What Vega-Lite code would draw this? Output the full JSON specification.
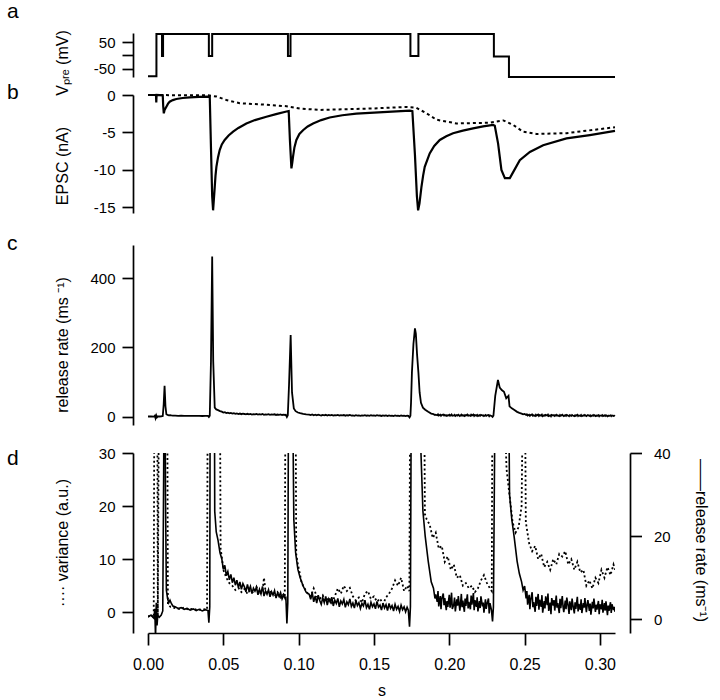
{
"$schema":"https://vega.github.io/schema/vega-lite/v6.json",
"padding":{"left":7,"top":0,"right":2,"bottom":0},
"background":"white",
"config":{
 "view":{"stroke":null},
 "font":"Liberation Sans",
 "axis":{"domainColor":"#000","domainWidth":1.7,"tickColor":"#000","tickWidth":1.7,"labelColor":"#000","titleColor":"#000","labelFont":"Liberation Sans","titleFont":"Liberation Sans","labelFontSize":15,"titleFontSize":16,"titleFontWeight":"normal","grid":false,"tickSize":11,"labelPadding":7,"labelFlush":false,"labelOverlap":false},
 "title":{"font":"Liberation Sans","fontSize":21,"fontWeight":"normal","color":"#000","anchor":"start","frame":"group","baseline":"alphabetic","offset":0},
 "line":{"color":"#000"}
},
"datasets":{
 "vpre":[{"t":0,"mv":-78},{"t":0.0056,"mv":81},{"t":0.0093,"mv":-2},{"t":0.0100,"mv":81},{"t":0.0404,"mv":-2},{"t":0.0426,"mv":81},{"t":0.0929,"mv":-2},{"t":0.0946,"mv":81},{"t":0.1742,"mv":-2},{"t":0.1795,"mv":81},{"t":0.2296,"mv":-4},{"t":0.2396,"mv":-81},{"t":0.31,"mv":-81}],
 "epsc":[{"t":0,"na":0},{"t":0.0053,"na":0},{"t":0.0055,"na":-1.0},{"t":0.0057,"na":0},{"t":0.0098,"na":-0.05},{"t":0.0101,"na":-1.5},{"t":0.0105,"na":-2.45},{"t":0.011,"na":-2.0},{"t":0.0122,"na":-1.56},{"t":0.0133,"na":-1.15},{"t":0.0144,"na":-0.89},{"t":0.0165,"na":-0.68},{"t":0.0188,"na":-0.53},{"t":0.023,"na":-0.4},{"t":0.0277,"na":-0.31},{"t":0.034,"na":-0.26},{"t":0.0398,"na":-0.22},{"t":0.041,"na":-0.25},{"t":0.0418,"na":-7},{"t":0.0426,"na":-13.5},{"t":0.0432,"na":-15.4},{"t":0.0437,"na":-14},{"t":0.0443,"na":-12.3},{"t":0.0448,"na":-10.8},{"t":0.0454,"na":-9.6},{"t":0.0465,"na":-8.3},{"t":0.0476,"na":-7.35},{"t":0.049,"na":-6.6},{"t":0.0509,"na":-6.0},{"t":0.0535,"na":-5.4},{"t":0.0565,"na":-4.9},{"t":0.06,"na":-4.4},{"t":0.0653,"na":-3.8},{"t":0.071,"na":-3.35},{"t":0.0786,"na":-2.9},{"t":0.085,"na":-2.55},{"t":0.0919,"na":-2.2},{"t":0.0934,"na":-2.15},{"t":0.0942,"na":-6},{"t":0.0952,"na":-9.8},{"t":0.0958,"na":-9},{"t":0.0963,"na":-8.2},{"t":0.0972,"na":-7},{"t":0.0985,"na":-6.0},{"t":0.1005,"na":-5.2},{"t":0.1029,"na":-4.7},{"t":0.106,"na":-4.2},{"t":0.1096,"na":-3.8},{"t":0.115,"na":-3.35},{"t":0.1206,"na":-3.0},{"t":0.129,"na":-2.7},{"t":0.1383,"na":-2.5},{"t":0.156,"na":-2.3},{"t":0.1738,"na":-2.1},{"t":0.1755,"na":-2.15},{"t":0.1772,"na":-8},{"t":0.1785,"na":-13.5},{"t":0.1793,"na":-15.4},{"t":0.1802,"na":-14.5},{"t":0.1815,"na":-12.3},{"t":0.1826,"na":-10.8},{"t":0.1837,"na":-9.6},{"t":0.187,"na":-7.8},{"t":0.19,"na":-6.8},{"t":0.1937,"na":-6.0},{"t":0.198,"na":-5.5},{"t":0.2025,"na":-5.1},{"t":0.209,"na":-4.75},{"t":0.2158,"na":-4.45},{"t":0.2225,"na":-4.2},{"t":0.2291,"na":-4.0},{"t":0.2302,"na":-4.1},{"t":0.2324,"na":-6.5},{"t":0.2346,"na":-10.0},{"t":0.2369,"na":-11.1},{"t":0.2402,"na":-11.1},{"t":0.2424,"na":-10.3},{"t":0.2468,"na":-8.7},{"t":0.2535,"na":-7.6},{"t":0.2623,"na":-6.7},{"t":0.2778,"na":-5.8},{"t":0.2933,"na":-5.35},{"t":0.31,"na":-4.8}],
 "epsc2":[{"t":0,"na":0},{"t":0.040,"na":-0.05},{"t":0.0454,"na":-0.2},{"t":0.052,"na":-0.67},{"t":0.0609,"na":-1.1},{"t":0.0786,"na":-1.3},{"t":0.0919,"na":-1.5},{"t":0.1007,"na":-1.8},{"t":0.114,"na":-2.0},{"t":0.149,"na":-1.8},{"t":0.1715,"na":-1.6},{"t":0.178,"na":-1.7},{"t":0.1849,"na":-2.45},{"t":0.1915,"na":-3.3},{"t":0.2048,"na":-3.8},{"t":0.227,"na":-3.7},{"t":0.2359,"na":-3.4},{"t":0.2424,"na":-4.0},{"t":0.249,"na":-4.9},{"t":0.2579,"na":-5.2},{"t":0.2778,"na":-5.1},{"t":0.31,"na":-4.3}],
 "rate":[{"t":0,"r":0.5},{"t":0.002,"r":1},{"t":0.004,"r":0.2},{"t":0.0045,"r":2.5},{"t":0.005,"r":-4.5},{"t":0.0055,"r":4},{"t":0.006,"r":-1.5},{"t":0.0065,"r":1},{"t":0.0075,"r":0.5},{"t":0.0088,"r":1},{"t":0.0098,"r":2},{"t":0.0104,"r":35},{"t":0.011,"r":89},{"t":0.0116,"r":30},{"t":0.0122,"r":7},{"t":0.013,"r":5},{"t":0.0138,"r":4},{"t":0.0146,"r":4.6},{"t":0.0155,"r":3.8},{"t":0.0165,"r":3.2},{"t":0.018,"r":3},{"t":0.02,"r":2.6},{"t":0.022,"r":2.8},{"t":0.024,"r":2.4},{"t":0.026,"r":2.6},{"t":0.028,"r":2.2},{"t":0.03,"r":2.5},{"t":0.032,"r":2.1},{"t":0.034,"r":2.4},{"t":0.036,"r":2},{"t":0.038,"r":2.3},{"t":0.0398,"r":2.1},{"t":0.0404,"r":-0.8},{"t":0.041,"r":3},{"t":0.0418,"r":160},{"t":0.0426,"r":463},{"t":0.0433,"r":160},{"t":0.0443,"r":26},{"t":0.0453,"r":21},{"t":0.0465,"r":19},{"t":0.0478,"r":16},{"t":0.049,"r":14.5},{"t":0.05,"r":12},{"t":0.051,"r":13},{"t":0.052,"r":10.5},{"t":0.053,"r":11.5},{"t":0.054,"r":9.5},{"t":0.055,"r":10.8},{"t":0.056,"r":8.8},{"t":0.057,"r":10},{"t":0.058,"r":8.2},{"t":0.059,"r":9.4},{"t":0.06,"r":7.6},{"t":0.061,"r":9},{"t":0.062,"r":7.2},{"t":0.063,"r":8.6},{"t":0.064,"r":7.8},{"t":0.065,"r":6.6},{"t":0.066,"r":8.4},{"t":0.067,"r":6.9},{"t":0.068,"r":7.9},{"t":0.069,"r":6.2},{"t":0.07,"r":7.5},{"t":0.071,"r":6.8},{"t":0.072,"r":7.7},{"t":0.073,"r":5.9},{"t":0.074,"r":7.2},{"t":0.075,"r":6.1},{"t":0.076,"r":7.9},{"t":0.077,"r":5.6},{"t":0.078,"r":6.8},{"t":0.079,"r":6.0},{"t":0.08,"r":7.1},{"t":0.081,"r":5.4},{"t":0.082,"r":6.6},{"t":0.083,"r":5.8},{"t":0.084,"r":6.9},{"t":0.085,"r":5.1},{"t":0.086,"r":6.3},{"t":0.087,"r":5.5},{"t":0.088,"r":6.4},{"t":0.089,"r":4.9},{"t":0.09,"r":5.8},{"t":0.091,"r":5.0},{"t":0.0915,"r":5.5},{"t":0.0922,"r":-1},{"t":0.0928,"r":4},{"t":0.0936,"r":90},{"t":0.0947,"r":236},{"t":0.0956,"r":70},{"t":0.0968,"r":24},{"t":0.098,"r":16},{"t":0.0995,"r":12},{"t":0.101,"r":10},{"t":0.103,"r":8},{"t":0.105,"r":6.5},{"t":0.107,"r":6},{"t":0.108,"r":4.8},{"t":0.109,"r":6.5},{"t":0.11,"r":4.2},{"t":0.111,"r":5.6},{"t":0.112,"r":3.9},{"t":0.113,"r":5.8},{"t":0.114,"r":4.5},{"t":0.115,"r":3.6},{"t":0.116,"r":5.2},{"t":0.117,"r":4.0},{"t":0.118,"r":5.5},{"t":0.119,"r":3.4},{"t":0.12,"r":4.9},{"t":0.121,"r":4.1},{"t":0.122,"r":5.3},{"t":0.123,"r":3.2},{"t":0.124,"r":4.6},{"t":0.125,"r":3.8},{"t":0.126,"r":5.0},{"t":0.127,"r":3.0},{"t":0.128,"r":4.4},{"t":0.129,"r":3.7},{"t":0.13,"r":4.8},{"t":0.131,"r":2.9},{"t":0.132,"r":4.2},{"t":0.133,"r":3.5},{"t":0.134,"r":4.9},{"t":0.135,"r":3.1},{"t":0.136,"r":3.9},{"t":0.137,"r":2.7},{"t":0.138,"r":4.5},{"t":0.139,"r":3.3},{"t":0.14,"r":4.0},{"t":0.141,"r":2.6},{"t":0.142,"r":3.8},{"t":0.143,"r":3.2},{"t":0.144,"r":4.6},{"t":0.145,"r":2.8},{"t":0.146,"r":3.6},{"t":0.147,"r":2.4},{"t":0.148,"r":4.1},{"t":0.149,"r":3.0},{"t":0.15,"r":3.7},{"t":0.151,"r":2.5},{"t":0.152,"r":4.3},{"t":0.153,"r":2.9},{"t":0.154,"r":3.4},{"t":0.155,"r":2.2},{"t":0.156,"r":3.9},{"t":0.157,"r":2.7},{"t":0.158,"r":3.5},{"t":0.159,"r":2.1},{"t":0.16,"r":3.8},{"t":0.161,"r":2.6},{"t":0.162,"r":3.3},{"t":0.163,"r":2.0},{"t":0.164,"r":3.6},{"t":0.165,"r":2.4},{"t":0.166,"r":3.1},{"t":0.167,"r":1.9},{"t":0.168,"r":3.4},{"t":0.169,"r":2.3},{"t":0.17,"r":3.0},{"t":0.171,"r":1.8},{"t":0.172,"r":2.9},{"t":0.1728,"r":2.2},{"t":0.1736,"r":-1.8},{"t":0.1742,"r":3},{"t":0.1746,"r":40},{"t":0.1752,"r":128},{"t":0.1762,"r":210},{"t":0.1772,"r":255},{"t":0.1778,"r":240},{"t":0.1786,"r":180},{"t":0.1795,"r":128},{"t":0.1803,"r":70},{"t":0.1812,"r":40},{"t":0.1825,"r":26},{"t":0.184,"r":20},{"t":0.186,"r":14},{"t":0.188,"r":9},{"t":0.1895,"r":7.5},{"t":0.1905,"r":5},{"t":0.191,"r":6},{"t":0.192,"r":4.2},{"t":0.1925,"r":6.8},{"t":0.193,"r":3.1},{"t":0.194,"r":5.6},{"t":0.1945,"r":2.4},{"t":0.195,"r":4.9},{"t":0.196,"r":6.2},{"t":0.1965,"r":3.4},{"t":0.197,"r":5.1},{"t":0.198,"r":2.2},{"t":0.1985,"r":4.4},{"t":0.199,"r":3.0},{"t":0.2,"r":5.9},{"t":0.2005,"r":2.8},{"t":0.201,"r":4.1},{"t":0.2015,"r":6.4},{"t":0.202,"r":2.5},{"t":0.203,"r":3.6},{"t":0.2035,"r":5.2},{"t":0.204,"r":1.9},{"t":0.205,"r":4.8},{"t":0.2055,"r":3.3},{"t":0.206,"r":5.6},{"t":0.207,"r":2.1},{"t":0.2075,"r":3.9},{"t":0.208,"r":6.1},{"t":0.2085,"r":2.9},{"t":0.209,"r":4.5},{"t":0.21,"r":1.8},{"t":0.2105,"r":5.0},{"t":0.211,"r":3.2},{"t":0.212,"r":6.0},{"t":0.2125,"r":2.6},{"t":0.213,"r":4.2},{"t":0.214,"r":2.4},{"t":0.2145,"r":5.7},{"t":0.215,"r":3.5},{"t":0.216,"r":6.3},{"t":0.2165,"r":2.2},{"t":0.217,"r":4.6},{"t":0.218,"r":3.0},{"t":0.2185,"r":5.3},{"t":0.219,"r":1.9},{"t":0.22,"r":4.4},{"t":0.2205,"r":2.7},{"t":0.221,"r":5.5},{"t":0.222,"r":3.1},{"t":0.2225,"r":4.0},{"t":0.223,"r":1.6},{"t":0.224,"r":4.8},{"t":0.2245,"r":2.5},{"t":0.225,"r":3.6},{"t":0.226,"r":5.0},{"t":0.2265,"r":1.4},{"t":0.227,"r":3.9},{"t":0.228,"r":2.2},{"t":0.2287,"r":-0.5},{"t":0.2293,"r":3},{"t":0.2305,"r":60},{"t":0.2323,"r":106},{"t":0.2335,"r":84},{"t":0.2348,"r":77},{"t":0.2363,"r":72},{"t":0.2378,"r":53},{"t":0.2393,"r":60},{"t":0.24,"r":30},{"t":0.2415,"r":24},{"t":0.243,"r":20},{"t":0.245,"r":14},{"t":0.2465,"r":11},{"t":0.248,"r":9},{"t":0.249,"r":7},{"t":0.25,"r":8},{"t":0.251,"r":5},{"t":0.2515,"r":6.8},{"t":0.252,"r":3.5},{"t":0.253,"r":5.9},{"t":0.2535,"r":2.4},{"t":0.254,"r":4.6},{"t":0.255,"r":6.5},{"t":0.2555,"r":2.9},{"t":0.256,"r":4.1},{"t":0.257,"r":1.8},{"t":0.2575,"r":5.4},{"t":0.258,"r":3.2},{"t":0.259,"r":6.1},{"t":0.2595,"r":2.3},{"t":0.26,"r":4.7},{"t":0.261,"r":3.0},{"t":0.2615,"r":5.8},{"t":0.262,"r":1.6},{"t":0.263,"r":4.4},{"t":0.2635,"r":2.6},{"t":0.264,"r":5.5},{"t":0.265,"r":3.4},{"t":0.2655,"r":6.2},{"t":0.266,"r":2.0},{"t":0.267,"r":4.0},{"t":0.2675,"r":1.2},{"t":0.268,"r":5.1},{"t":0.269,"r":3.3},{"t":0.2695,"r":4.6},{"t":0.27,"r":2.1},{"t":0.271,"r":5.7},{"t":0.2715,"r":2.8},{"t":0.272,"r":3.9},{"t":0.273,"r":1.5},{"t":0.2735,"r":4.9},{"t":0.274,"r":2.7},{"t":0.275,"r":5.6},{"t":0.2755,"r":3.1},{"t":0.276,"r":1.7},{"t":0.277,"r":4.5},{"t":0.2775,"r":2.4},{"t":0.278,"r":5.2},{"t":0.279,"r":3.0},{"t":0.2795,"r":1.3},{"t":0.28,"r":4.3},{"t":0.281,"r":2.2},{"t":0.2815,"r":5.0},{"t":0.282,"r":3.6},{"t":0.283,"r":1.4},{"t":0.2835,"r":4.1},{"t":0.284,"r":2.5},{"t":0.285,"r":5.4},{"t":0.2855,"r":1.9},{"t":0.286,"r":3.7},{"t":0.287,"r":2.3},{"t":0.2875,"r":4.8},{"t":0.288,"r":1.5},{"t":0.289,"r":3.9},{"t":0.2895,"r":2.8},{"t":0.29,"r":5.1},{"t":0.291,"r":1.7},{"t":0.2915,"r":3.4},{"t":0.292,"r":4.6},{"t":0.293,"r":2.0},{"t":0.2935,"r":3.8},{"t":0.294,"r":1.1},{"t":0.295,"r":4.2},{"t":0.2955,"r":2.6},{"t":0.296,"r":5.0},{"t":0.297,"r":1.8},{"t":0.2975,"r":3.5},{"t":0.298,"r":2.3},{"t":0.299,"r":4.4},{"t":0.2995,"r":1.2},{"t":0.3,"r":3.6},{"t":0.301,"r":2.4},{"t":0.3015,"r":4.7},{"t":0.302,"r":1.6},{"t":0.303,"r":3.9},{"t":0.3035,"r":2.1},{"t":0.304,"r":4.3},{"t":0.305,"r":1.0},{"t":0.3055,"r":3.3},{"t":0.306,"r":2.0},{"t":0.307,"r":4.1},{"t":0.3075,"r":1.5},{"t":0.308,"r":3.6},{"t":0.309,"r":2.2},{"t":0.3095,"r":3.0},{"t":0.31,"r":1.8}],
 "variance":[{"t":0,"v":-0.8},{"t":0.002,"v":-0.5},{"t":0.0038,"v":-1},{"t":0.0042,"v":40},{"t":0.0062,"v":40},{"t":0.0065,"v":-0.5},{"t":0.0072,"v":40},{"t":0.0128,"v":40},{"t":0.0132,"v":1.5},{"t":0.015,"v":1},{"t":0.018,"v":0.8},{"t":0.021,"v":0.6},{"t":0.024,"v":0.9},{"t":0.027,"v":0.5},{"t":0.03,"v":0.7},{"t":0.033,"v":0.4},{"t":0.036,"v":0.6},{"t":0.0392,"v":0.5},{"t":0.0396,"v":40},{"t":0.0478,"v":40},{"t":0.0482,"v":12},{"t":0.0492,"v":10},{"t":0.05,"v":8},{"t":0.052,"v":6.5},{"t":0.054,"v":5.5},{"t":0.056,"v":5},{"t":0.058,"v":4.2},{"t":0.06,"v":4.6},{"t":0.062,"v":3.8},{"t":0.064,"v":4.4},{"t":0.066,"v":3.5},{"t":0.068,"v":4.2},{"t":0.07,"v":3.6},{"t":0.072,"v":4.8},{"t":0.074,"v":3.4},{"t":0.076,"v":4},{"t":0.077,"v":6.5},{"t":0.078,"v":4},{"t":0.08,"v":3.5},{"t":0.082,"v":4},{"t":0.084,"v":3},{"t":0.086,"v":3.8},{"t":0.088,"v":2.8},{"t":0.09,"v":3.4},{"t":0.0908,"v":3},{"t":0.0912,"v":40},{"t":0.098,"v":40},{"t":0.0984,"v":11},{"t":0.0995,"v":9},{"t":0.101,"v":7},{"t":0.102,"v":5.5},{"t":0.104,"v":4.5},{"t":0.106,"v":3.5},{"t":0.108,"v":3},{"t":0.11,"v":4.5},{"t":0.112,"v":3},{"t":0.114,"v":2.5},{"t":0.116,"v":3.2},{"t":0.118,"v":2},{"t":0.12,"v":2.8},{"t":0.122,"v":1.8},{"t":0.124,"v":3},{"t":0.126,"v":4.5},{"t":0.128,"v":3.5},{"t":0.13,"v":5},{"t":0.132,"v":4},{"t":0.134,"v":4.6},{"t":0.136,"v":3},{"t":0.138,"v":2.2},{"t":0.14,"v":2.8},{"t":0.142,"v":1.8},{"t":0.144,"v":3.5},{"t":0.146,"v":4},{"t":0.148,"v":2.5},{"t":0.15,"v":3},{"t":0.152,"v":2},{"t":0.154,"v":2.6},{"t":0.156,"v":1.5},{"t":0.158,"v":2.8},{"t":0.16,"v":3.5},{"t":0.162,"v":4.5},{"t":0.164,"v":6},{"t":0.166,"v":5},{"t":0.168,"v":6.5},{"t":0.17,"v":4},{"t":0.172,"v":5},{"t":0.1735,"v":4},{"t":0.174,"v":40},{"t":0.1834,"v":40},{"t":0.1838,"v":18.5},{"t":0.185,"v":17.5},{"t":0.187,"v":16.5},{"t":0.189,"v":14},{"t":0.191,"v":15},{"t":0.193,"v":12},{"t":0.195,"v":12.5},{"t":0.197,"v":9.5},{"t":0.199,"v":10.5},{"t":0.201,"v":8},{"t":0.203,"v":9},{"t":0.205,"v":6.5},{"t":0.207,"v":7},{"t":0.209,"v":5},{"t":0.211,"v":5.5},{"t":0.213,"v":4.5},{"t":0.215,"v":5},{"t":0.217,"v":3.8},{"t":0.219,"v":4.5},{"t":0.221,"v":6},{"t":0.223,"v":7},{"t":0.225,"v":5.5},{"t":0.227,"v":4.5},{"t":0.2282,"v":4},{"t":0.2286,"v":40},{"t":0.2365,"v":40},{"t":0.238,"v":27},{"t":0.24,"v":22},{"t":0.242,"v":17},{"t":0.244,"v":15},{"t":0.246,"v":16},{"t":0.248,"v":20},{"t":0.2488,"v":40},{"t":0.2503,"v":40},{"t":0.2508,"v":17},{"t":0.253,"v":13},{"t":0.255,"v":11.5},{"t":0.257,"v":12.5},{"t":0.259,"v":10},{"t":0.261,"v":11},{"t":0.263,"v":8.5},{"t":0.265,"v":9.5},{"t":0.267,"v":8},{"t":0.269,"v":10},{"t":0.271,"v":9},{"t":0.273,"v":11},{"t":0.275,"v":10.5},{"t":0.277,"v":11.5},{"t":0.279,"v":9},{"t":0.281,"v":10},{"t":0.283,"v":8},{"t":0.285,"v":9.5},{"t":0.287,"v":7.5},{"t":0.289,"v":8},{"t":0.291,"v":5},{"t":0.293,"v":6},{"t":0.295,"v":4.5},{"t":0.297,"v":6.5},{"t":0.299,"v":5.5},{"t":0.301,"v":8},{"t":0.303,"v":6.5},{"t":0.305,"v":8.5},{"t":0.307,"v":7},{"t":0.309,"v":9},{"t":0.31,"v":8}]
},
"vconcat":[
  {"width":467,"height":62,
   "title":{"text":"a","dx":-141,"dy":-4},
   "data":{"name":"vpre"},
   "mark":{"type":"line","interpolate":"step-after","strokeWidth":2,"clip":true},
   "encoding":{
    "x":{"field":"t","type":"quantitative","scale":{"domain":[0,0.31],"nice":false,"zero":false},"axis":null},
    "y":{"field":"mv","type":"quantitative","scale":{"domain":[-81,84.5],"range":[44,0],"nice":false,"zero":false},
     "axis":{"orient":"left","offset":15,"values":[-50,0,50],"labelExpr":"datum.value == 0 ? '' : '' + datum.value","title":"Vₚᵣₑ (mV)","titleX":-71,"titleY":29.5,"titleAngle":-90,"titleBaseline":"middle","titleAlign":"center"}}
   }},
  {"width":467,"height":150,
   "title":{"text":"b","dx":-141,"dy":19},
   "layer":[
    {"data":{"name":"epsc2"},"mark":{"type":"line","strokeWidth":2,"strokeDash":[3,3]},
     "encoding":{
      "x":{"field":"t","type":"quantitative","scale":{"domain":[0,0.31],"nice":false,"zero":false},"axis":null},
      "y":{"field":"na","type":"quantitative","scale":{"domain":[-15.76,0],"range":[118,0],"nice":false,"zero":false},
       "axis":{"orient":"left","offset":15,"values":[-15,-10,-5,0],"labelExpr":"'' + datum.value","title":"EPSC (nA)","titleX":-71,"titleY":70.5,"titleAngle":-90,"titleBaseline":"middle","titleAlign":"center"}}
     }},
    {"data":{"name":"epsc"},"mark":{"type":"line","strokeWidth":2.2},
     "encoding":{
      "x":{"field":"t","type":"quantitative"},
      "y":{"field":"na","type":"quantitative"}
     }}
   ]},
  {"width":467,"height":208,
   "title":{"text":"c","dx":-141,"dy":13},
   "data":{"name":"rate"},
   "mark":{"type":"line","strokeWidth":1.8},
   "encoding":{
    "x":{"field":"t","type":"quantitative","scale":{"domain":[0,0.31],"nice":false,"zero":false},"axis":null},
    "y":{"field":"r","type":"quantitative","scale":{"domain":[-24,496],"range":[180,0],"nice":false,"zero":false},
     "axis":{"orient":"left","offset":15,"values":[0,200,400],"labelExpr":"'' + datum.value","title":"release rate (ms ⁻¹)","titleX":-71,"titleY":99.5,"titleAngle":-90,"titleBaseline":"middle","titleAlign":"center"}}
   }},
  {"width":467,"height":180,
   "title":{"text":"d","dx":-141,"dy":27},
   "layer":[
    {"data":{"name":"variance"},"mark":{"type":"line","strokeWidth":1.8,"strokeDash":[2,2.5],"clip":true},
     "encoding":{
      "x":{"field":"t","type":"quantitative","scale":{"domain":[0,0.31],"nice":false,"zero":false},
       "axis":{"orient":"bottom","values":[0,0.05,0.1,0.15,0.2,0.25,0.3],"format":".2f","tickSize":12,"labelPadding":11,"labelFontSize":16,"title":"s","titleX":233.5,"titleY":62,"titleBaseline":"alphabetic"}},
      "y":{"field":"v","type":"quantitative","scale":{"domain":[-3.9,30],"nice":false,"zero":false},
       "axis":{"orient":"left","offset":15,"values":[0,10,20,30],"labelExpr":"'' + datum.value","title":"···· variance (a.u.)","titleX":-71,"titleY":89.5,"titleAngle":-90,"titleBaseline":"middle","titleAlign":"center"}}
     }},
    {"data":{"name":"rate"},"mark":{"type":"line","strokeWidth":1.6,"clip":true},
     "encoding":{
      "x":{"field":"t","type":"quantitative"},
      "y":{"field":"r","type":"quantitative","scale":{"domain":[-3.3,40],"nice":false,"zero":false},
       "axis":{"orient":"right","offset":15,"values":[0,20,40],"labelExpr":"'' + datum.value","tickSize":11.5,"labelPadding":12,"title":"——release rate (ms⁻¹)","titleX":70,"titleY":87,"titleAngle":90,"titleBaseline":"middle","titleAlign":"center"}}
     }}
   ],
   "resolve":{"scale":{"y":"independent"}}}
],
"spacing":0,
"bounds":"flush",
"resolve":{"scale":{"y":"independent"}}
}
